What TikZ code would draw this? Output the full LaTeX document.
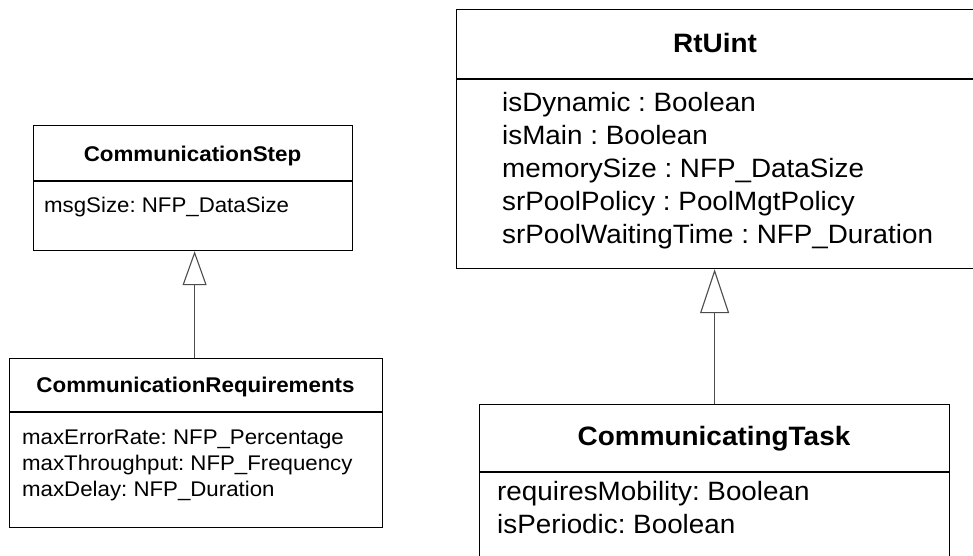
\documentclass[tikz,border=0pt]{standalone}
\usepackage{fontspec}
\setmainfont{Liberation Sans}[FakeStretch=1.05]
\usetikzlibrary{arrows.meta}
\frenchspacing
\begin{document}
\begin{tikzpicture}[x=1pt,y=-1pt,
  classbox/.style={draw=black,line width=1.2pt,rectangle,inner sep=0pt,anchor=north west},
  divider/.style={draw=black,line width=1.1pt},
  smalltitle/.style={inner sep=0pt,anchor=base,font=\fontsize{21.3}{26}\selectfont\bfseries},
  smallattr/.style={inner sep=0pt,anchor=base west,font=\fontsize{21.2}{26}\selectfont},
  bigtitle/.style={inner sep=0pt,anchor=base,font=\fontsize{26.6}{33}\selectfont\bfseries},
  bigattr/.style={inner sep=0pt,anchor=base west,font=\fontsize{26.5}{33}\selectfont},
  generalize/.style={draw=black!70,line width=1.1pt},
  hollowtip/.style args={#1/#2}{-{Triangle[open,width=#1,length=#2,line width=1.1pt]}}
]
\useasboundingbox (0,0) rectangle (973,555);
\fill[white] (0,0) rectangle (973,555);

% CommunicationStep
\node[classbox,minimum width=319pt,minimum height=125pt] (step) at (33,125) {};
\draw[divider] (33,181) -- (352,181);
\node[smalltitle] (steptitle) at (192.5,161) {CommunicationStep};
\node[smallattr] (stepa1) at (44,212) {msgSize: NFP\_DataSize};

% CommunicationRequirements
\node[classbox,minimum width=373pt,minimum height=169pt] (req) at (9,358) {};
\draw[divider] (9,412) -- (382,412);
\node[smalltitle] (reqtitle) at (195.5,392) {CommunicationRequirements};
\node[smallattr] (reqa1) at (22,444) {maxErrorRate: NFP\_Percentage};
\node[smallattr] (reqa2) at (22,470) {maxThroughput: NFP\_Frequency};
\node[smallattr] (reqa3) at (22,496) {maxDelay: NFP\_Duration};

% RtUint (runs past the right edge)
\node[classbox,minimum width=519pt,minimum height=259pt] (rt) at (456,9) {};
\draw[divider] (456,79) -- (980,79);
\node[bigtitle] (rttitle) at (715,52.5) {RtUint};
\node[bigattr] (rta1) at (502,111) {isDynamic : Boolean};
\node[bigattr] (rta2) at (502,144) {isMain : Boolean};
\node[bigattr] (rta3) at (502,177) {memorySize : NFP\_DataSize};
\node[bigattr] (rta4) at (502,210) {srPoolPolicy : PoolMgtPolicy};
\node[bigattr] (rta5) at (502,243) {srPoolWaitingTime : NFP\_Duration};

% CommunicatingTask (runs past the bottom edge)
\node[classbox,minimum width=470pt,minimum height=170pt] (task) at (479,404) {};
\draw[divider] (479,472) -- (949,472);
\node[bigtitle] (tasktitle) at (714,445) {CommunicatingTask};
\node[bigattr] (taska1) at (497,500) {requiresMobility: Boolean};
\node[bigattr] (taska2) at (497,533) {isPeriodic: Boolean};

% generalisations
\draw[generalize,hollowtip=24pt/34pt] ([xshift=-1.5pt]req.north) -- ([xshift=-1.5pt]req.north |- step.south);
\draw[generalize,hollowtip=29pt/44pt] (task.north) -- (task.north |- rt.south);
\end{tikzpicture}
\end{document}
